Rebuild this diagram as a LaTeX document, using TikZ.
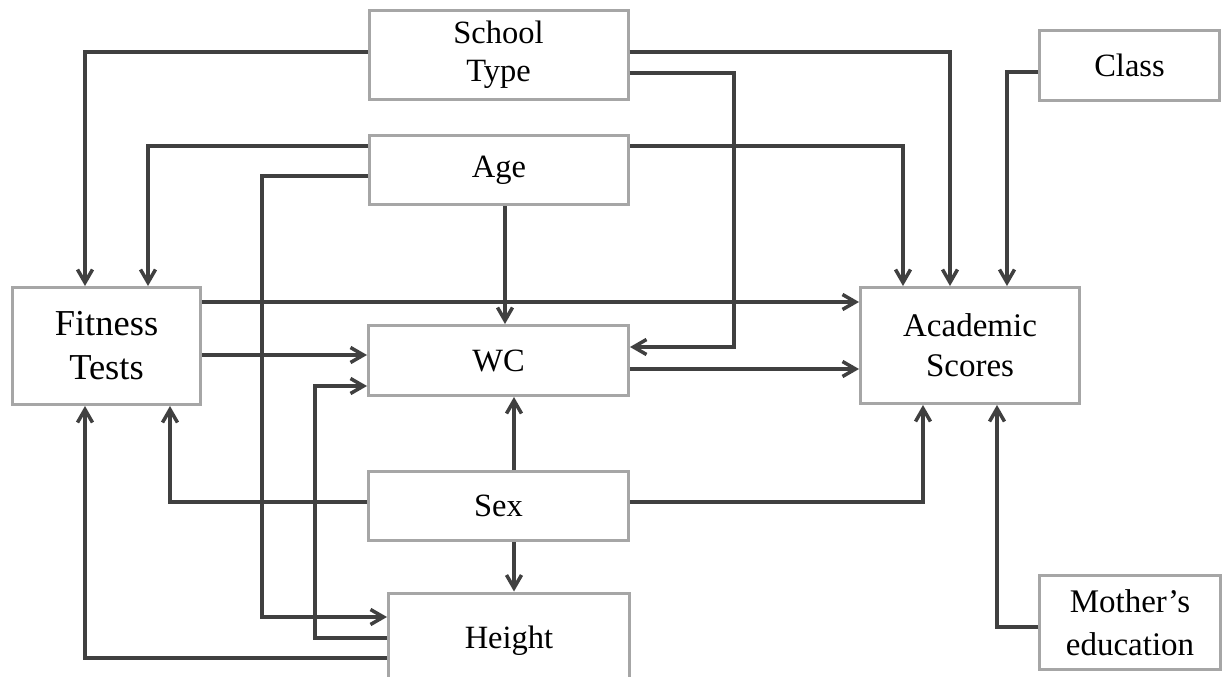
\documentclass[tikz,border=0pt]{standalone}
\usepackage{fontspec}
\setmainfont{Liberation Serif}
\usetikzlibrary{arrows.meta}
\definecolor{linec}{HTML}{404040}
\definecolor{boxc}{HTML}{A6A6A6}
\begin{document}
\begin{tikzpicture}[x=1pt,y=-1pt,
  box/.style={draw=boxc, line width=3pt, fill=white, inner sep=0pt, align=center,
    font=\fontsize{32.5}{38}\selectfont},
  conn/.style={draw=linec, line width=3.5pt,
    -{Straight Barb[length=13pt,width=15pt]}}]
\useasboundingbox[fill=white] (0,0) rectangle (1229,677);
\clip (0,0) rectangle (1229,677);
% nodes
\node[box, minimum width=259pt, minimum height=89pt] (school) at (498.5,55) {School\\Type};
\node[box, minimum width=259pt, minimum height=69pt] (age) at (499,170) {Age};
\node[box, minimum width=180pt, minimum height=70pt] (class) at (1129.5,65.5) {Class};
\node[box, minimum width=188pt, minimum height=117pt,
  font=\fontsize{36.5}{44}\selectfont] (fit) at (106.5,346) {Fitness\\Tests};
\node[box, minimum width=260pt, minimum height=70pt] (wc) at (498.5,360.5) {WC};
\node[box, minimum width=219pt, minimum height=116pt,
  font=\fontsize{33}{40}\selectfont] (acad) at (970,345.5) {Academic\\Scores};
\node[box, minimum width=260pt, minimum height=69pt] (sex) at (498.5,506) {Sex};
\node[box, minimum width=241pt, minimum height=95pt] (height) at (509,640.5) {Height};
\node[box, minimum width=181pt, minimum height=94pt,
  font=\fontsize{33}{43}\selectfont] (mother) at (1130,622.5) {Mother’s\\education};
% connectors
\draw[conn] ([yshift=3pt]school.west) -| ([xshift=-21.5pt]fit.north);
\draw[conn] ([yshift=24pt]age.west) -| ([xshift=41.5pt]fit.north);
\draw[conn] ([yshift=-6pt]age.west) -- ++(-106,0) |- ([yshift=23.5pt]height.west);
\draw[conn] ([xshift=6pt]age.south) -- ([xshift=6pt]age.south |- wc.north);
\draw[conn] ([yshift=44pt]fit.east) -- ([yshift=44pt]fit.east -| acad.west);
\draw[conn] ([yshift=-9pt]fit.east) -- ([yshift=-9pt]fit.east -| wc.west);
\draw[conn] ([yshift=2.5pt]height.west) -- ++(-72,0) |- ([yshift=-25.5pt]wc.west);
\draw[conn] ([yshift=-17.5pt]height.west) -| ([xshift=-21.5pt]fit.south);
\draw[conn] ([yshift=4pt]sex.west) -| ([xshift=63.5pt]fit.south);
\draw[conn] ([xshift=15.5pt]sex.north) -- ([xshift=15.5pt]sex.north |- wc.south);
\draw[conn] ([xshift=15.5pt]sex.south) -- ([xshift=15.5pt]sex.south |- height.north);
\draw[conn] ([yshift=4pt]sex.east) -| ([xshift=-47pt]acad.south);
\draw[conn] ([yshift=-4.5pt]mother.west) -| ([xshift=27pt]acad.south);
\draw[conn] ([yshift=-6.5pt]class.west) -| ([xshift=37pt]acad.north);
\draw[conn] ([yshift=3pt]school.east) -| ([xshift=-20pt]acad.north);
\draw[conn] ([yshift=24pt]age.east) -| ([xshift=-67pt]acad.north);
\draw[conn] ([yshift=-18pt]school.east) -- ++(104.5,0) |- ([yshift=13.5pt]wc.east);
\draw[conn] ([yshift=-8.5pt]wc.east) -- ([yshift=-8.5pt]wc.east -| acad.west);
\end{tikzpicture}
\end{document}
